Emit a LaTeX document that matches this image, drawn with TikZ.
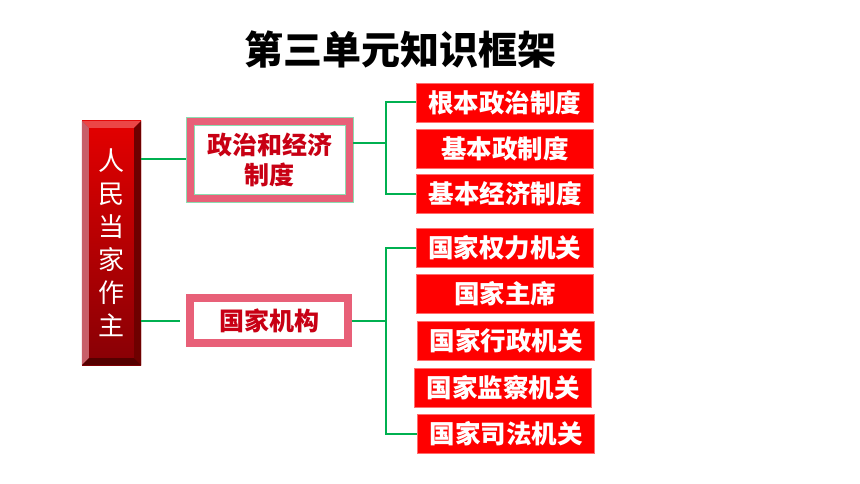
\documentclass[tikz,border=0pt]{standalone}
\usepackage{fontspec}
\setmainfont{Noto Sans CJK SC}
\usetikzlibrary{positioning}

\definecolor{frameRed}{RGB}{232,96,120}
\definecolor{linkGreen}{RGB}{0,176,80}
\definecolor{boxRed}{RGB}{255,0,0}
\definecolor{boxEdge}{RGB}{255,110,110}
\definecolor{textRed}{RGB}{200,0,20}
\definecolor{faceTop}{RGB}{228,0,0}
\definecolor{faceBottom}{RGB}{135,0,5}
\definecolor{bevelTop}{RGB}{235,70,70}
\definecolor{bevelLeft}{RGB}{200,95,105}
\definecolor{bevelRight}{RGB}{110,0,0}
\definecolor{bevelBottom}{RGB}{85,0,0}

\tikzset{
  redbox/.style={fill=boxRed, draw=boxEdge, line width=0.6pt,
    minimum width=177pt, minimum height=39pt, inner sep=0pt, text=white,
    font=\fontsize{25.5}{28}\selectfont\bfseries},
  framebox/.style={draw=frameRed, line width=8pt, fill=white, inner sep=0pt,
    text=textRed, align=center, font=\fontsize{25}{30}\selectfont\bfseries},
  pillar/.style={minimum width=59pt, minimum height=244pt, inner sep=0pt,
    top color=faceTop, bottom color=faceBottom,
    text=white, align=center, font=\fontsize{26}{33}\selectfont},
  link/.style={draw=linkGreen, line width=2pt},
}

\begin{document}
\begin{tikzpicture}[x=1pt,y=-1pt]
  \useasboundingbox (0,0) rectangle (860,484);

  % title
  \node[font=\fontsize{39}{44}\selectfont\bfseries] (title) at (400,50) {第三单元知识框架};

  % left pillar
  \node[pillar] (rm) at (111.5,243) {人\\民\\当\\家\\作\\主};
  \fill[bevelTop] (rm.north west) -- (rm.north east)
    -- ([shift={(-7,7)}]rm.north east) -- ([shift={(7,7)}]rm.north west) -- cycle;
  \fill[bevelLeft] (rm.north west) -- ([shift={(7,7)}]rm.north west)
    -- ([shift={(7,-7)}]rm.south west) -- (rm.south west) -- cycle;
  \fill[bevelRight] (rm.north east) -- (rm.south east)
    -- ([shift={(-7,-7)}]rm.south east) -- ([shift={(-7,7)}]rm.north east) -- cycle;
  \fill[bevelBottom] (rm.south west) -- ([shift={(7,-7)}]rm.south west)
    -- ([shift={(-7,-7)}]rm.south east) -- (rm.south east) -- cycle;

  % middle frames
  \node[framebox, minimum width=159pt, minimum height=77pt] (p2) at (269.5,159.5) {政治和经济\\制度};
  \draw[linkGreen!45, line width=0.8pt] (p2.north west) rectangle (p2.south east);
  \draw[linkGreen!45, line width=0.8pt] ([shift={(8,8)}]p2.north west) rectangle ([shift={(-8,-8)}]p2.south east);
  \node[framebox, minimum width=158pt, minimum height=45pt] (p3) at (269,320.5) {国家机构};

  % right boxes
  \foreach \name/\x/\y/\txt in {r1/504.5/102.5/根本政治制度, r2/505/148.5/基本政制度,
      r3/505/194/基本经济制度, s1/504.5/247.5/国家权力机关, s2/505/294/国家主席,
      s3/506/341/国家行政机关, s4/503/387.5/国家监察机关, s5/506/434/国家司法机关}
    \node[redbox] (\name) at (\x,\y) {\txt};

  % connectors
  \coordinate (j1) at (386,143);
  \coordinate (j2) at (386,320.5);
  \draw[link] (rm.east |- p2.west) -- (p2.west);
  \draw[link, shorten >=6pt] (rm.east |- p3.west) -- (p3.west);
  \draw[link] (p2.east |- j1) -- (j1);
  \draw[link] (p3.east) -- (j2);
  \draw[link] (r1.west) -| (j1) |- (r3.west);
  \draw[link] (s1.west) -| (j2) |- (s5.west);
\end{tikzpicture}
\end{document}
